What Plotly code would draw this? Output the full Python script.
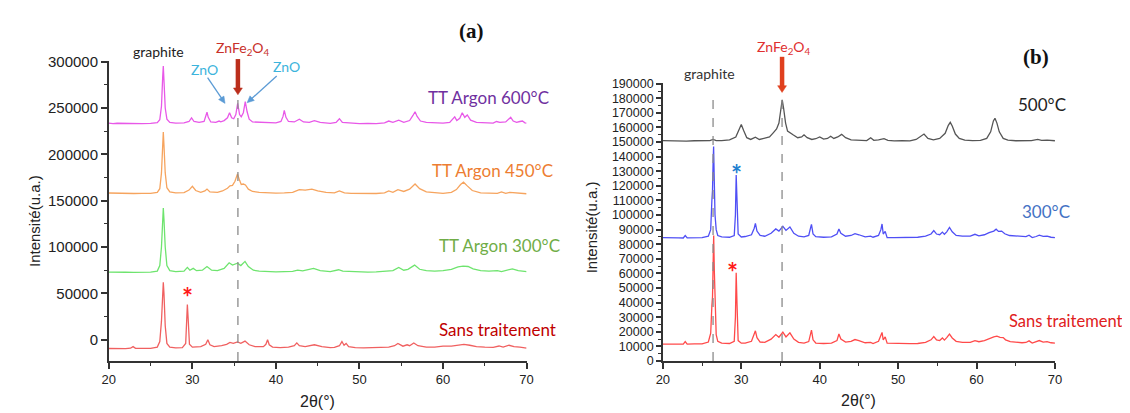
import math
import plotly.graph_objects as go

W, H = 1130, 413

# ---------------- data (2theta, intensity) ----------------
# Panel (a)
a_600 = [(20.0, 233800), (20.5, 233200), (21.0, 233600), (22.0, 233300), (23.0, 233700), (24.0, 233200),
         (25.0, 233500), (25.8, 234200), (26.1, 237500), (26.3, 252000), (26.45, 284000), (26.52, 295500),
         (26.6, 280000), (26.75, 250000), (26.95, 238000), (27.3, 234500), (28.0, 233800), (29.0, 234000),
         (29.6, 235500), (29.9, 239500), (30.2, 235500), (30.8, 234500), (31.4, 235500), (31.6, 240000),
         (31.75, 245500), (31.9, 240000), (32.2, 235000), (32.8, 234500), (33.2, 236000), (33.4, 235200),
         (33.8, 236500), (34.2, 239500), (34.45, 245000), (34.7, 239500), (34.95, 238500), (35.2, 243000),
         (35.42, 255000), (35.65, 243000), (35.85, 240500), (36.1, 245000), (36.33, 257000), (36.55, 246000),
         (36.8, 238000), (37.2, 235000), (38.0, 234500), (39.0, 234000), (40.0, 234000), (40.6, 235500),
         (40.85, 241000), (41.0, 247500), (41.2, 240000), (41.5, 235500), (42.2, 235000), (42.8, 238000),
         (43.3, 235000), (44.0, 234500), (44.6, 236500), (45.3, 234500), (46.5, 233500), (47.2, 234500),
         (47.6, 238500), (47.95, 234500), (49.0, 233500), (50.0, 233200), (51.0, 233500), (52.0, 233300),
         (53.0, 234000), (53.5, 236000), (54.0, 234500), (54.7, 237000), (55.3, 234500), (56.0, 236500),
         (56.4, 242000), (56.65, 246000), (56.9, 241000), (57.3, 236000), (58.0, 234500), (59.0, 234200),
         (60.0, 233800), (60.8, 234500), (61.2, 238000), (61.4, 240500), (61.65, 236500), (62.0, 239000),
         (62.3, 245000), (62.6, 240000), (62.9, 242500), (63.3, 237000), (64.0, 234500), (65.0, 234000),
         (66.0, 233800), (66.4, 235500), (66.8, 234500), (67.5, 235000), (67.9, 238000), (68.1, 240000),
         (68.4, 236000), (68.8, 234500), (69.2, 235500), (69.5, 236000), (69.8, 234000), (70.0, 233800)]

a_450 = [(20.0, 158300), (21.0, 158000), (22.0, 158200), (23.0, 157800), (24.0, 158000), (25.0, 158000),
         (25.8, 159000), (26.1, 163000), (26.3, 180000), (26.45, 212000), (26.52, 224000), (26.6, 210000),
         (26.75, 180000), (26.95, 164000), (27.3, 159500), (28.0, 158500), (29.0, 158800), (29.6, 161500),
         (30.0, 165500), (30.4, 161000), (31.0, 159000), (31.5, 160500), (31.75, 162500), (32.1, 159500),
         (33.0, 159000), (33.6, 160500), (34.2, 163500), (34.5, 166000), (34.8, 166500), (35.1, 171000),
         (35.4, 179000), (35.65, 172000), (35.85, 167500), (36.1, 168000), (36.35, 167000), (36.7, 162500),
         (37.2, 160000), (38.0, 159000), (39.0, 158500), (40.0, 158200), (41.0, 158500), (42.0, 159000),
         (42.8, 162000), (43.5, 161500), (44.3, 162500), (45.0, 160500), (46.0, 159000), (47.0, 158500),
         (47.6, 160500), (48.2, 158500), (49.0, 158000), (50.0, 157800), (51.0, 158000), (52.0, 157800),
         (53.0, 158500), (53.5, 160500), (54.0, 159000), (54.6, 162000), (55.3, 160000), (56.0, 162500),
         (56.65, 168000), (57.2, 163000), (58.0, 159500), (59.0, 158500), (60.0, 158000), (61.0, 159000),
         (61.6, 162000), (62.1, 167500), (62.45, 170000), (62.9, 166000), (63.5, 161000), (64.5, 158500),
         (65.5, 158000), (66.5, 158000), (67.0, 159500), (67.5, 158000), (68.0, 159000), (69.0, 158000),
         (70.0, 157500)]

a_300 = [(20.0, 73000), (21.0, 72500), (22.0, 72800), (23.0, 72600), (24.0, 72800), (25.0, 73000),
         (25.8, 74000), (26.1, 80000), (26.3, 100000), (26.45, 132000), (26.52, 142000), (26.6, 130000),
         (26.75, 100000), (26.95, 80000), (27.3, 74500), (28.0, 73500), (29.0, 74000), (29.4, 78000),
         (29.7, 75000), (30.1, 77000), (30.5, 74500), (31.2, 75000), (31.75, 79000), (32.3, 75000),
         (33.0, 74500), (33.8, 77000), (34.4, 83000), (34.8, 80500), (35.4, 82500), (35.8, 80000),
         (36.3, 84500), (36.7, 79000), (37.3, 75000), (38.0, 74000), (39.0, 73500), (40.0, 73200),
         (41.0, 73500), (42.0, 73800), (42.6, 75000), (43.2, 74200), (44.5, 77000), (45.3, 74500),
         (46.5, 73500), (47.5, 75500), (48.0, 74000), (49.0, 73500), (50.0, 73200), (51.0, 73000),
         (52.0, 73200), (53.0, 73500), (54.0, 74500), (54.7, 78000), (55.3, 75000), (55.8, 76000),
         (56.6, 80500), (57.2, 76000), (58.0, 74500), (59.0, 74000), (60.0, 74500), (61.0, 76000),
         (61.8, 78500), (62.4, 79500), (63.0, 79000), (63.6, 76500), (64.5, 74500), (65.5, 74000),
         (66.5, 74500), (67.0, 73500), (67.6, 75000), (68.3, 76500), (69.0, 74500), (70.0, 73500)]

a_raw = [(20.0, -9500), (21.0, -9800), (22.0, -9600), (22.6, -9200), (22.9, -7500), (23.2, -9300),
         (24.0, -9500), (25.0, -9300), (25.8, -8000), (26.1, -2000), (26.3, 20000), (26.45, 52000),
         (26.52, 62000), (26.6, 50000), (26.75, 15000), (26.95, -4000), (27.3, -8000), (28.0, -8800),
         (28.8, -8500), (29.2, -4000), (29.3, 25000), (29.4, 38000), (29.5, 22000), (29.65, -5000),
         (30.0, -8000), (31.0, -7500), (31.6, -5000), (31.85, 0), (32.1, -5500), (32.6, -7500),
         (33.5, -6500), (34.1, -5000), (34.5, -3000), (34.9, -4000), (35.4, -2500), (35.8, -4000),
         (36.3, -1500), (36.8, -5500), (37.5, -7500), (38.5, -7500), (38.8, -5000), (39.0, 0),
         (39.2, -5500), (39.6, -8000), (40.5, -8500), (41.5, -8000), (42.2, -6500), (42.5, -3500),
         (42.8, -6500), (43.5, -7500), (44.6, -5500), (45.5, -7500), (46.5, -8500), (47.0, -8200),
         (47.6, -6500), (47.9, -2000), (48.15, -6000), (48.4, -4000), (48.7, -7500), (49.5, -8500),
         (50.5, -8800), (52.0, -8500), (53.5, -8000), (54.2, -6500), (54.6, -4000), (55.2, -7000),
         (55.7, -5500), (56.0, -6500), (56.5, -3500), (57.0, -6500), (58.0, -8000), (59.0, -8000),
         (60.0, -7000), (61.0, -7000), (61.8, -6000), (62.5, -5000), (63.2, -6000), (64.0, -7500),
         (65.0, -8000), (66.0, -8200), (66.7, -6800), (67.2, -8000), (67.9, -6000), (68.5, -7500),
         (69.2, -8000), (70.0, -9000)]

# Panel (b)
b_500 = [(20.0, 151000), (21.0, 150800), (22.0, 150900), (23.0, 150700), (24.0, 150900), (25.0, 150800),
         (26.0, 151000), (26.4, 151800), (26.8, 151000), (27.5, 151000), (28.5, 151500), (29.3, 153500),
         (29.7, 158000), (30.0, 162000), (30.3, 158000), (30.7, 153000), (31.2, 151800), (31.8, 153300),
         (32.3, 151800), (33.1, 153000), (33.6, 153500), (34.1, 156500), (34.5, 159000), (34.8, 163000),
         (35.05, 172000), (35.22, 179000), (35.4, 173000), (35.65, 163000), (35.9, 157500), (36.25, 156500),
         (36.6, 155000), (37.2, 153000), (37.7, 153500), (38.0, 155000), (38.4, 153000), (39.0, 151800),
         (39.5, 152300), (40.0, 153500), (40.5, 152000), (41.0, 152500), (41.4, 154000), (41.8, 152500),
         (42.3, 153500), (42.8, 155300), (43.3, 153000), (44.0, 151500), (45.0, 151000), (46.0, 151000),
         (46.5, 153000), (46.9, 151200), (47.5, 151500), (48.2, 152300), (48.7, 151200), (49.5, 150800),
         (50.5, 150900), (51.5, 150800), (52.3, 151800), (52.9, 154000), (53.3, 155500), (53.8, 152500),
         (54.5, 151500), (55.3, 152500), (56.0, 156000), (56.4, 161500), (56.65, 163500), (56.9, 161000),
         (57.3, 155500), (57.8, 152500), (58.5, 151300), (59.5, 151000), (60.5, 151200), (61.3, 152500),
         (61.8, 157000), (62.15, 164500), (62.35, 166300), (62.6, 163000), (62.9, 157000), (63.4, 152500),
         (64.0, 151300), (65.0, 150900), (66.0, 150800), (67.0, 151000), (67.8, 151800), (68.3, 151200),
         (69.0, 151300), (69.5, 151000), (70.0, 150900)]

b_300 = [(20.0, 84500), (21.0, 84200), (22.0, 84400), (22.6, 84300), (22.85, 86000), (23.1, 84300),
         (24.0, 84500), (25.0, 84500), (25.8, 85500), (26.1, 90000), (26.25, 110000), (26.33, 117000),
         (26.4, 135000), (26.47, 147000), (26.55, 125000), (26.65, 100000), (26.8, 90000), (27.0, 86000),
         (27.5, 85000), (28.5, 84800), (29.1, 86000), (29.25, 100000), (29.35, 127500), (29.45, 108000),
         (29.6, 87000), (30.0, 85000), (30.5, 85300), (31.3, 86500), (31.65, 91000), (31.8, 94300),
         (32.0, 89000), (32.4, 86000), (33.0, 85500), (33.8, 87500), (34.4, 90500), (34.8, 89000),
         (35.3, 92300), (35.7, 89500), (36.2, 91800), (36.7, 87500), (37.3, 85500), (38.0, 85000),
         (38.6, 86000), (38.85, 91500), (38.95, 93600), (39.15, 87000), (39.5, 85200), (40.5, 84800),
         (41.5, 85000), (42.2, 87000), (42.45, 90500), (42.7, 87500), (43.3, 85500), (44.0, 86000),
         (44.5, 87300), (45.0, 86500), (45.8, 85000), (46.5, 85500), (46.8, 84800), (47.5, 86000),
         (47.8, 90000), (47.95, 93900), (48.1, 87000), (48.35, 88800), (48.6, 84500), (49.5, 84500),
         (50.5, 84500), (51.5, 84600), (52.5, 84800), (53.5, 85500), (54.2, 87000), (54.55, 89400),
         (54.9, 87000), (55.3, 86500), (55.65, 88300), (55.9, 86800), (56.2, 88500), (56.55, 91500),
         (56.9, 88500), (57.4, 86000), (58.2, 85500), (59.2, 85500), (59.8, 86800), (60.3, 85800),
         (61.0, 86500), (61.6, 88000), (62.2, 89000), (62.5, 90300), (62.8, 88800), (63.2, 89000),
         (63.6, 87200), (64.2, 86000), (65.0, 85500), (65.8, 85000), (66.3, 85200), (66.7, 86200),
         (67.1, 84600), (67.6, 85300), (68.0, 86200), (68.5, 85400), (69.0, 85600), (69.5, 84800),
         (70.0, 84500)]

b_raw = [(20.0, 11500), (21.0, 11400), (22.0, 11500), (22.6, 11600), (22.85, 13300), (23.1, 11600),
         (24.0, 11700), (25.0, 11800), (25.8, 13000), (26.1, 19000), (26.25, 38000), (26.33, 44000),
         (26.42, 70000), (26.48, 86000), (26.56, 62000), (26.65, 35000), (26.8, 18000), (27.0, 13500),
         (27.5, 12200), (28.5, 12000), (29.1, 13500), (29.25, 30000), (29.35, 60500), (29.45, 40000),
         (29.6, 14000), (30.0, 12200), (30.5, 12300), (31.3, 13500), (31.65, 18500), (31.8, 20700),
         (32.0, 16000), (32.4, 13000), (33.0, 12800), (33.8, 15000), (34.4, 18100), (34.8, 16300),
         (35.3, 19800), (35.7, 16500), (36.2, 19300), (36.7, 15000), (37.3, 12800), (38.0, 12300),
         (38.6, 13300), (38.85, 19000), (38.95, 21200), (39.15, 14500), (39.5, 12300), (40.5, 12000),
         (41.5, 12200), (42.2, 14000), (42.45, 18500), (42.7, 15000), (43.3, 13000), (44.0, 13500),
         (44.5, 14700), (45.0, 14000), (45.8, 12500), (46.5, 12700), (46.8, 12000), (47.5, 13500),
         (47.8, 17000), (47.95, 19600), (48.1, 14500), (48.35, 16500), (48.6, 12200), (49.5, 12000),
         (50.5, 11800), (51.5, 11900), (52.5, 12000), (53.5, 12800), (54.2, 14500), (54.55, 16800),
         (54.9, 14500), (55.3, 14000), (55.65, 15800), (55.9, 14300), (56.2, 16000), (56.55, 18400),
         (56.9, 15800), (57.4, 13500), (58.2, 12800), (59.2, 12800), (59.8, 14000), (60.3, 13200),
         (61.0, 14000), (61.6, 15500), (62.2, 16500), (62.6, 17000), (63.0, 16200), (63.4, 16000),
         (63.7, 14500), (64.3, 13300), (65.0, 12800), (65.8, 12500), (66.3, 12700), (66.7, 13800),
         (67.1, 12300), (67.6, 13000), (68.0, 14000), (68.5, 13000), (69.0, 13300), (69.5, 12500),
         (70.0, 12300)]

# reference peak positions (2theta) and top of dashed markers
ref_a = [(35.45, 262000)]
ref_b = [(26.4, 184500), (35.2, 181000)]
arrow_a = (35.45, 264400)   # ZnFe2O4 arrow tip, panel (a)
arrow_b = (35.2, 184000)    # ZnFe2O4 arrow tip, panel (b)

series_a = [("TT Argon 600°C", a_600, "#e858e8"), ("TT Argon 450°C", a_450, "#f6a45e"),
            ("TT Argon 300°C", a_300, "#6ee46e"), ("Sans traitement", a_raw, "#f06060")]
series_b = [("500°C", b_500, "#555555"), ("300°C", b_300, "#4f4ff5"), ("Sans traitement", b_raw, "#ff4a4a")]

x_ticks = [20, 30, 40, 50, 60, 70]

# ---------------- layout geometry (pixels) ----------------
A_BOX = dict(x0=95, x1=518, yb=358, yt=46.5, xr=(20, 70), yr=(-23000, 301000))
B_BOX = dict(x0=656, x1=1053, yb=358, yt=69.5, xr=(20, 70), yr=(0, 190500))


def px(x):
    return x / W


def py(y):
    return 1 - y / H


def to_pix(box, xv, yv):
    fx = (xv - box["xr"][0]) / (box["xr"][1] - box["xr"][0])
    fy = (yv - box["yr"][0]) / (box["yr"][1] - box["yr"][0])
    return box["x0"] + fx * (box["x1"] - box["x0"]), box["yb"] - fy * (box["yb"] - box["yt"])


fig = go.Figure()
for name, pts, col in series_a:
    fig.add_trace(go.Scatter(x=[p[0] for p in pts], y=[p[1] for p in pts], mode="lines", name=name,
                             line=dict(color=col, width=1.3), xaxis="x", yaxis="y", hoverinfo="skip"))
for name, pts, col in series_b:
    fig.add_trace(go.Scatter(x=[p[0] for p in pts], y=[p[1] for p in pts], mode="lines", name=name,
                             line=dict(color=col, width=1.3), xaxis="x2", yaxis="y2", hoverinfo="skip"))

TF = "Liberation Sans, Arial"
axis_common = dict(showline=True, linecolor="#333", linewidth=1.5, ticks="outside", tickcolor="#333",
                   tickwidth=1.5, showgrid=False, zeroline=False)
minor_x = dict(dtick=5, ticklen=3, ticks="outside", tickcolor="#333", tickwidth=1.2)

fig.update_layout(
    width=W, height=H, autosize=False, margin=dict(l=0, r=0, t=0, b=0),
    paper_bgcolor="white", plot_bgcolor="white", showlegend=False,
    xaxis=dict(domain=[px(A_BOX["x0"]), px(A_BOX["x1"])], range=list(A_BOX["xr"]), tickvals=x_ticks,
               ticklen=6, minor=minor_x, tickfont=dict(family=TF, size=13, color="#222"), anchor="y",
               **axis_common),
    yaxis=dict(domain=[py(A_BOX["yb"]), py(A_BOX["yt"])], range=list(A_BOX["yr"]), dtick=50000, tick0=0,
               tickformat="d", ticklen=6,
               minor=dict(dtick=25000, ticklen=3, ticks="outside", tickcolor="#333", tickwidth=1.2),
               tickfont=dict(family=TF, size=15, color="#222"), anchor="x", **axis_common),
    xaxis2=dict(domain=[px(B_BOX["x0"]), px(B_BOX["x1"])], range=list(B_BOX["xr"]), tickvals=x_ticks,
                ticklen=6, minor=minor_x, tickfont=dict(family=TF, size=13, color="#222"), anchor="y2",
                **axis_common),
    yaxis2=dict(domain=[py(B_BOX["yb"]), py(B_BOX["yt"])], range=list(B_BOX["yr"]), dtick=10000, tick0=0,
                tickformat="d", ticklen=5,
                minor=dict(dtick=5000, ticklen=3, ticks="outside", tickcolor="#333", tickwidth=1.2),
                tickfont=dict(family=TF, size=12.5, color="#222"), anchor="x2", **axis_common),
)

# dashed reference lines
dash = dict(color="#8a8a8a", width=1.3, dash="dash")
for xv, top in ref_a:
    fig.add_shape(type="line", xref="x", yref="y", x0=xv, x1=xv, y0=A_BOX["yr"][0], y1=top, line=dash)
for xv, top in ref_b:
    fig.add_shape(type="line", xref="x2", yref="y2", x0=xv, x1=xv, y0=0, y1=top, line=dash)


# arrows drawn as shapes (shaft + filled head), pixel geometry
def arrow(x0, y0, x1, y1, width, color, head_len, head_w):
    dx, dy = x1 - x0, y1 - y0
    L = math.hypot(dx, dy)
    ux, uy = dx / L, dy / L
    bx, by = x1 - ux * head_len, y1 - uy * head_len
    nx, ny = -uy, ux
    fig.add_shape(type="line", xref="paper", yref="paper", x0=px(x0), y0=py(y0),
                  x1=px(bx + ux * 0.5), y1=py(by + uy * 0.5), line=dict(color=color, width=width))
    p1 = (bx + nx * head_w / 2, by + ny * head_w / 2)
    p2 = (bx - nx * head_w / 2, by - ny * head_w / 2)
    path = "M {} {} L {} {} L {} {} Z".format(px(p1[0]), py(p1[1]), px(x1), py(y1), px(p2[0]), py(p2[1]))
    fig.add_shape(type="path", xref="paper", yref="paper", path=path, fillcolor=color,
                  line=dict(color=color, width=0.5))


tipa = to_pix(A_BOX, *arrow_a)
arrow(tipa[0], tipa[1] - 37, tipa[0], tipa[1], 4.5, "#bb2e1c", 7, 9)
tipb = to_pix(B_BOX, *arrow_b)
arrow(tipb[0], tipb[1] - 37, tipb[0], tipb[1], 4.5, "#e0401e", 7, 9)
arrow(195, 64, 212.7, 90.7, 1.3, "#5b9bd5", 7, 6.5)
arrow(265, 62.3, 235, 90, 1.3, "#5b9bd5", 7, 6.5)

LAB = "Lato, Open Sans, sans-serif"
ann = []


def text(x, y, s, size, color, family=LAB, anchor="center", **kw):
    ann.append(dict(x=px(x), y=py(y), xref="paper", yref="paper", text=s, showarrow=False,
                    font=dict(family=family, size=size, color=color), xanchor=anchor, yanchor="middle", **kw))


# panel (a) texts
text(462, 16, "<b>(a)</b>", 21, "#111", family="Liberation Serif, Times New Roman")
text(145.5, 37, "graphite", 14, "#222")
text(231, 34, "ZnFe<sub>2</sub>O<sub>4</sub>", 14, "#c8302a")
text(191.7, 55, "ZnO", 14, "#3cb4dc")
text(275, 52, "ZnO", 14, "#3cb4dc")
text(543, 85, "TT Argon 600°C", 17, "#7030a0", anchor="right")
text(547, 160, "TT Argon 450°C", 17, "#ed7d31", anchor="right")
text(554, 238, "TT Argon 300°C", 17, "#70ad47", anchor="right")
text(550, 325, "Sans traitement", 17, "#c00000", anchor="right")
text(175, 292, "<b>*</b>", 26, "#ff1a1a")
text(306.5, 400, "2θ(°)", 16, "#222", family=TF)
text(19, 213, "Intensité(u.a.)", 15, "#222", family=TF, textangle=-90)

# panel (b) texts
text(1034, 43, "<b>(b)</b>", 21, "#111", family="Liberation Serif, Times New Roman")
text(703, 60, "graphite", 14, "#333")
text(779, 33, "ZnFe<sub>2</sub>O<sub>4</sub>", 14, "#e03030")
text(1066, 92, "500°C", 17, "#222", anchor="right")
text(1070, 203, "300°C", 17, "#4472c4", anchor="right")
text(1124, 316, "Sans traitement", 16.5, "#e02020", anchor="right")
text(731, 164, "<b>*</b>", 26, "#1f7fd0")
text(727, 266, "<b>*</b>", 26, "#ff1a1a")
text(854.5, 399, "2θ(°)", 16, "#222", family=TF)
text(583.5, 219, "Intensité(u.a.)", 15, "#222", family=TF, textangle=-90)

fig.update_layout(annotations=ann)
fig.write_html("out.html")
